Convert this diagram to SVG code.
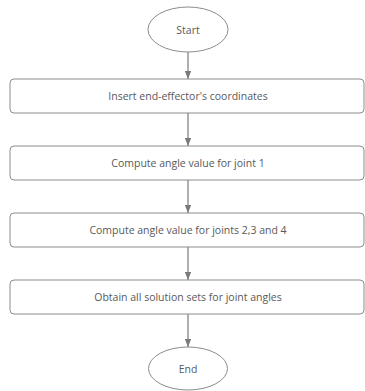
<svg xmlns="http://www.w3.org/2000/svg" width="365" height="391" viewBox="0 0 365 391">
<defs>
<style>
.n{fill:#fff;stroke:#8c8c8c;stroke-width:1}
.t{font-family:"Open Sans","Noto Sans",sans-serif;font-size:10.5px;fill:#595959;text-anchor:middle;dominant-baseline:central}
.c{stroke:#7a7a7a;stroke-width:1.2;fill:none}
</style>
<marker id="ah" viewBox="0 0 10 8" refX="10" refY="4" markerWidth="8" markerHeight="6.5" markerUnits="userSpaceOnUse" orient="auto">
<path d="M0,0L10,4L0,8Z" fill="#7a7a7a"/>
</marker>
</defs>
<rect width="365" height="391" fill="#fff"/>
<g id="connectors">
<line class="c" x1="188" y1="52" x2="188" y2="79" marker-end="url(#ah)"/>
<line class="c" x1="188" y1="113" x2="188" y2="146" marker-end="url(#ah)"/>
<line class="c" x1="188" y1="180" x2="188" y2="213" marker-end="url(#ah)"/>
<line class="c" x1="188" y1="247" x2="188" y2="280" marker-end="url(#ah)"/>
<line class="c" x1="188" y1="314" x2="188" y2="347" marker-end="url(#ah)"/>
</g>
<g id="start">
<ellipse class="n" cx="188" cy="29.5" rx="40" ry="22.5"/>
<text class="t" x="188" y="29.5">Start</text>
</g>
<g id="step1">
<rect class="n" x="10" y="79" width="354" height="34" rx="4"/>
<text class="t" x="188" y="96">Insert end-effector's coordinates</text>
</g>
<g id="step2">
<rect class="n" x="10" y="146" width="354" height="34" rx="4"/>
<text class="t" x="188" y="163">Compute angle value for joint 1</text>
</g>
<g id="step3">
<rect class="n" x="10" y="213" width="354" height="34" rx="4"/>
<text class="t" x="188" y="230">Compute angle value for joints 2,3 and 4</text>
</g>
<g id="step4">
<rect class="n" x="10" y="280" width="354" height="34" rx="4"/>
<text class="t" x="188" y="297">Obtain all solution sets for joint angles</text>
</g>
<g id="end">
<ellipse class="n" cx="188" cy="368.5" rx="39.5" ry="21.5"/>
<text class="t" x="188" y="368.5">End</text>
</g>
</svg>
